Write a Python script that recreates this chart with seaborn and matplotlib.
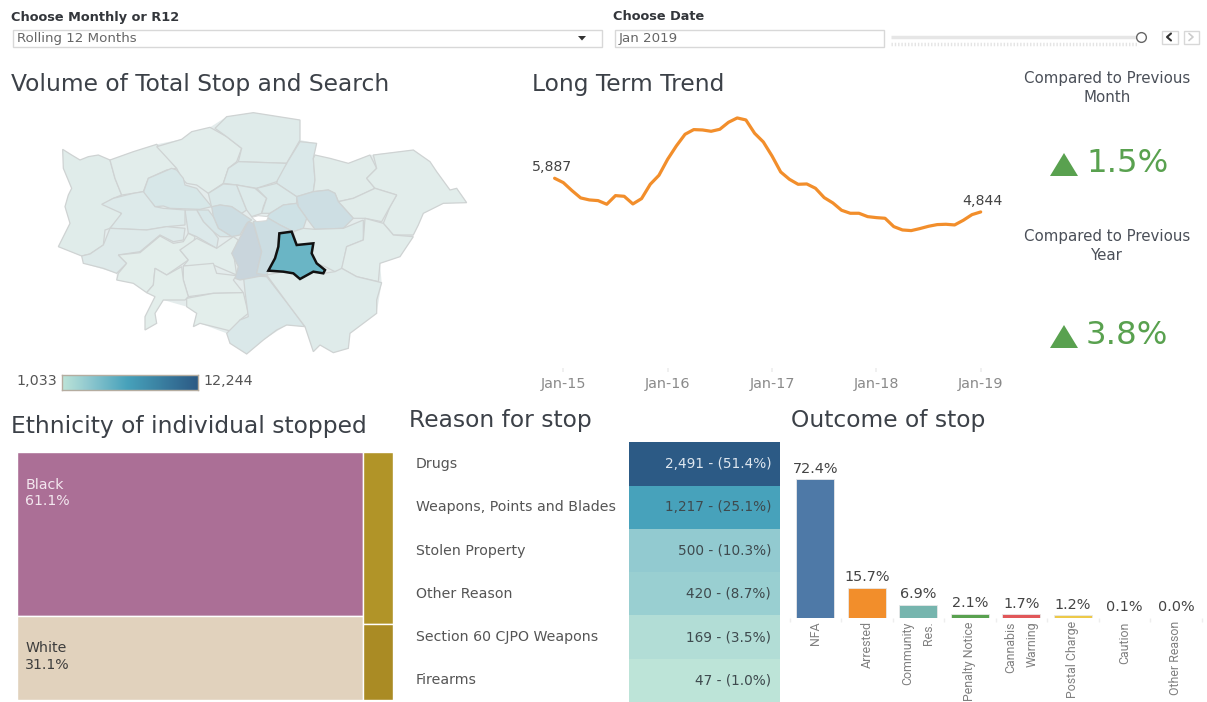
import matplotlib
matplotlib.use("Agg")
import matplotlib.pyplot as plt
from matplotlib import font_manager as fm
from matplotlib.colors import LinearSegmentedColormap, Normalize, to_rgb
from matplotlib.patches import Polygon, Rectangle
import numpy as np
import pandas as pd
import seaborn as sns

# ---------- data ----------
trend_values = [5887, 5753, 5505, 5278, 5216, 5195, 5082, 5350, 5329, 5092, 5257, 5701, 5980,
                6476, 6889, 7250, 7395, 7384, 7343, 7405, 7622, 7756, 7694, 7281, 7013,
                6579, 6083, 5856, 5701, 5711, 5577, 5288, 5123, 4896, 4803, 4803, 4699,
                4668, 4648, 4390, 4286, 4266, 4328, 4400, 4452, 4462, 4441, 4586, 4761, 4844]
trend_tick_months = [1, 13, 25, 37, 49]
trend_tick_labels = ["Jan-15", "Jan-16", "Jan-17", "Jan-18", "Jan-19"]

reason_labels = ["Drugs", "Weapons, Points and Blades", "Stolen Property", "Other Reason",
                 "Section 60 CJPO Weapons", "Firearms"]
reason_counts = [2491, 1217, 500, 420, 169, 47]
reason_pcts = [51.4, 25.1, 10.3, 8.7, 3.5, 1.0]

outcome_labels = ["NFA", "Arrested", "Community\nRes.", "Penalty Notice", "Cannabis\nWarning",
                  "Postal Charge", "Caution", "Other Reason"]
outcome_pcts = [72.4, 15.7, 6.9, 2.1, 1.7, 1.2, 0.1, 0.0]
outcome_colors = ["#4e79a7", "#f28e2b", "#76b5ae", "#59a14f", "#e15759", "#edc948", "#b07aa1", "#ff9da7"]

ethnicity_main = ["Black", "White"]
ethnicity_main_pcts = [61.1, 31.1]
ethnicity_rest_pcts = [5.4, 2.4]

color_min, color_max = 1033, 12244
selected_borough = "Lewisham"
borough_values = {
    "Hillingdon": 2000, "Harrow": 1400, "Barnet": 1350, "Enfield": 2300, "Waltham Forest": 3600,
    "Haringey": 3300, "Brent": 4300, "Camden": 3500, "Islington": 2800, "Hackney": 3300,
    "Redbridge": 1700, "Havering": 1500, "Barking": 1800, "Newham": 8000, "Tower Hamlets": 7000,
    "Westminster": 8500, "Kensington": 4400, "Hammersmith": 3000, "Ealing": 2900, "Hounslow": 2600,
    "Richmond": 1100, "Wandsworth": 1500, "Merton": 1250, "Kingston": 1100, "Sutton": 1200,
    "Croydon": 3600, "Lambeth": 12244, "Southwark": 8800, "Lewisham": 4844, "Greenwich": 2500,
    "Bexley": 1500, "Bromley": 2300,
}
# borough outlines in map units
london_outline = [(188,148),(240,180),(295,165),(330,180),(400,155),(470,133),(545,118),(575,95),(630,82),(680,50),(760,38),(900,60),(900,120),(950,130),(940,175),(990,175),(1045,190),(1110,165),(1240,150),(1290,185),(1310,215),(1350,270),(1370,265),(1400,308),(1330,310),(1270,340),(1240,405),(1200,470),(1140,490),(1145,548),(1130,640),(1050,700),(1045,745),(1000,758),(960,735),(940,755),(915,680),(860,675),(790,720),(740,762),(690,730),(680,700),(600,670),(580,680),(590,640),(560,620),(490,600),(465,640),(470,670),(435,690),(435,650),(465,590),(440,578),(400,550),(350,540),(350,520),(250,490),(245,468),(175,440),(210,370),(195,320),(205,285),(215,265),(190,205)]
borough_shapes = {
    "Hillingdon": [(188,148),(215,165),(240,180),(265,170),(295,165),(330,180),(345,235),(365,285),(340,295),(310,312),(360,335),(365,345),(330,385),(315,390),(310,435),(270,462),(245,468),(175,440),(210,370),(195,320),(205,285),(215,265),(190,205)],
    "Harrow": [(330,180),(400,155),(470,133),(530,205),(500,210),(445,235),(430,275),(400,280),(365,285),(345,235)],
    "Barnet": [(470,140),(545,118),(575,95),(630,82),(680,110),(725,145),(710,185),(685,205),(670,250),(625,280),(590,255),(560,250),(545,235),(530,205)],
    "Enfield": [(645,85),(680,50),(760,38),(900,60),(900,120),(860,190),(715,185),(725,145),(680,110)],
    "Waltham Forest": [(900,125),(950,130),(940,175),(945,240),(940,275),(890,290),(830,250),(835,225),(860,190)],
    "Haringey": [(715,185),(860,190),(830,245),(770,265),(710,255),(670,250),(685,205)],
    "Brent": [(515,205),(530,210),(550,235),(555,255),(590,265),(635,320),(600,328),(510,325),(490,318),(465,320),(430,278),(445,235)],
    "Camden": [(625,280),(670,252),(710,255),(740,330),(725,340),(695,320),(660,315),(635,322)],
    "Islington": [(710,255),(765,265),(800,295),(790,320),(785,340),(755,350),(740,330)],
    "Hackney": [(770,265),(830,250),(890,290),(890,310),(850,315),(810,340),(785,340),(800,295)],
    "Redbridge": [(945,165),(990,175),(1045,190),(1110,165),(1130,205),(1100,235),(1125,265),(1060,295),(1015,305),(1005,280),(985,270),(940,275),(945,240),(940,175)],
    "Havering": [(1120,165),(1240,150),(1290,185),(1310,215),(1350,270),(1370,265),(1400,308),(1330,310),(1270,340),(1255,375),(1240,405),(1180,405),(1150,370),(1170,320),(1190,285),(1125,265),(1100,235),(1130,205)],
    "Barking": [(1125,265),(1190,285),(1170,320),(1145,365),(1095,355),(1060,355),(1015,305),(1060,295)],
    "Newham": [(890,290),(940,275),(985,270),(1005,280),(1015,305),(1060,355),(1030,385),(945,388),(920,355),(895,320)],
    "Tower Hamlets": [(810,340),(850,315),(890,310),(895,320),(920,355),(910,385),(880,395),(840,375),(800,352)],
    "Westminster": [(635,320),(660,315),(695,320),(725,340),(755,360),(740,370),(720,405),(695,410),(655,385),(640,350)],
    "Kensington": [(590,330),(625,330),(640,350),(655,385),(695,410),(660,410),(640,395),(610,365)],
    "Hammersmith": [(555,330),(590,330),(610,365),(640,395),(655,415),(650,445),(590,410),(565,400)],
    "Ealing": [(305,313),(340,295),(400,280),(430,275),(465,320),(490,325),(555,330),(555,375),(500,380),(440,390),(330,385),(365,340)],
    "Hounslow": [(330,385),(440,390),(500,380),(555,385),(550,420),(520,425),(480,405),(420,455),(355,465),(380,490),(350,520),(310,505),(250,490),(245,468),(270,462),(310,435)],
    "Richmond": [(355,465),(420,458),(480,408),(520,430),(550,425),(565,400),(585,410),(580,430),(540,450),(565,480),(500,525),(465,505),(460,555),(440,578),(400,550),(350,540),(355,520),(380,490)],
    "Wandsworth": [(540,450),(590,415),(650,445),(700,410),(715,420),(700,455),(710,525),(640,495),(550,498),(565,480)],
    "Merton": [(550,498),(640,490),(650,520),(710,527),(700,540),(730,578),(640,580),(565,590),(550,540)],
    "Kingston": [(545,500),(550,540),(565,590),(555,600),(490,600),(465,640),(470,670),(435,690),(435,650),(465,590),(440,578),(460,555),(465,505),(500,525)],
    "Sutton": [(560,595),(640,580),(730,578),(745,640),(720,660),(700,695),(680,690),(600,670),(580,680),(590,640),(560,620)],
    "Croydon": [(730,525),(800,530),(870,620),(915,680),(860,675),(830,690),(790,720),(740,762),(690,730),(680,700),(720,660),(745,650),(735,575)],
    "Lambeth": [(695,460),(745,365),(760,370),(785,455),(770,520),(800,525),(720,540),(705,535),(715,500)],
    "Southwark": [(760,365),(800,352),(840,375),(880,395),(838,400),(835,440),(825,475),(805,515),(800,525),(770,520),(785,455)],
    "Greenwich": [(880,395),(910,385),(945,388),(1030,385),(1090,360),(1090,420),(1040,440),(1025,510),(1005,515),(975,500),(950,490),(935,460),(940,430),(890,435)],
    "Bexley": [(1095,355),(1150,370),(1180,405),(1240,410),(1200,470),(1140,490),(1135,545),(1070,530),(1025,505),(1040,440),(1090,420)],
    "Bromley": [(800,525),(850,515),(880,520),(900,537),(940,515),(970,520),(1005,515),(1025,505),(1070,530),(1145,548),(1130,600),(1130,640),(1050,700),(1045,745),(1000,758),(960,735),(940,755),(915,680),(870,620)],
    "Lewisham": [(838,400),(875,395),(890,435),(940,430),(935,460),(950,490),(975,510),(970,520),(940,515),(900,537),(880,520),(850,515),(805,512),(825,475),(835,440)],
}
city_shape = [(755,352),(775,347),(805,350),(800,362),(770,365)]

# ---------- set-up ----------
W, H = 1207, 702
sns.set_theme(style="white")
installed = {f.name for f in fm.fontManager.ttflist}
NARROW = "Liberation Sans Narrow" if "Liberation Sans Narrow" in installed else "Roboto"
plt.rcParams["font.family"] = ["DejaVu Sans"]
fig = plt.figure(figsize=(W / 100, H / 100), dpi=100, facecolor="white")


def px_axes(x0, y0, x1, y1, **kw):
    return fig.add_axes([x0 / W, 1 - y1 / H, (x1 - x0) / W, (y1 - y0) / H], **kw)


TITLE = "#3c4148"
ramp = LinearSegmentedColormap.from_list(
    "ramp", [(0, "#bde4d8"), (0.185, "#92cad0"), (0.48, "#47a2bb"), (1, "#2c5a85")])

# ---------- map ----------
ax_map = px_axes(0, 100, 500, 400)
ax_map.set_xlim(0, 1500)
ax_map.set_ylim(900, 0)
ax_map.axis("off")
map_norm = Normalize(color_min, color_max)
dim_base = np.array(to_rgb("#ecf0ef"))
ax_map.add_patch(Polygon(london_outline, closed=True, facecolor="#e4ecec", edgecolor="none", zorder=1))
for name, shape in borough_shapes.items():
    rgb = np.array(ramp(map_norm(borough_values[name]))[:3])
    if name == selected_borough:
        ax_map.add_patch(Polygon(shape, closed=True, facecolor=rgb, edgecolor="#111111", lw=1.8, zorder=3))
    else:
        ax_map.add_patch(Polygon(shape, closed=True, facecolor=0.18 * rgb + 0.82 * dim_base,
                                 edgecolor="#cfd3d3", lw=0.9, zorder=2))
ax_map.add_patch(Polygon(city_shape, closed=True, facecolor="white", edgecolor="#d5d8d8", lw=0.8, zorder=2))

ax_leg = px_axes(62, 375, 198, 390)
ax_leg.imshow(np.linspace(0, 1, 256)[None, :], cmap=ramp, aspect="auto")
ax_leg.set_xticks([])
ax_leg.set_yticks([])
for s in ax_leg.spines.values():
    s.set_color("#b5ada0")
    s.set_linewidth(1)

# ---------- long term trend ----------
x_scale = (980.7 - 563.3) / 48
ax_line = px_axes(532, 100, 1010, 368.3)
ax_line.set_xlim(1 - (563.3 - 532) / x_scale, 1 + (1010 - 563.3) / x_scale)
ax_line.set_ylim(0, 8312)
trend = pd.DataFrame({"month": np.arange(len(trend_values)), "value": trend_values})
sns.lineplot(data=trend, x="month", y="value", color="#f28e2b", lw=2.3, ax=ax_line)
ax_line.set_xlabel("")
ax_line.set_ylabel("")
ax_line.set_yticks([])
ax_line.set_xticks(trend_tick_months, trend_tick_labels)
ax_line.tick_params(axis="x", length=3, color="#eeeeee", labelcolor="#8a8a8a", labelsize=10.4, pad=3, bottom=True)
sns.despine(ax=ax_line, left=True, bottom=True)
ax_line.annotate(f"{trend_values[0]:,}", (0, trend_values[0]), xytext=(-2, 8), textcoords="offset points",
                 ha="center", va="center", fontsize=10.2, color="#444444")
ax_line.annotate(f"{trend_values[-1]:,}", (49, trend_values[-1]), xytext=(1, 8), textcoords="offset points",
                 ha="center", va="center", fontsize=10.2, color="#444444")

# ---------- ethnicity treemap ----------
ax_tree = px_axes(16.7, 451.7, 392.7, 700)
ax_tree.set_xlim(0, sum(ethnicity_main_pcts) + sum(ethnicity_rest_pcts))
ax_tree.set_ylim(1, 0)
ax_tree.axis("off")
main_total = sum(ethnicity_main_pcts)
rest_total = sum(ethnicity_rest_pcts)
share_black = ethnicity_main_pcts[0] / main_total
ax_tree.bar(0, share_black, width=main_total, bottom=0, align="edge", color="#ab6f96", edgecolor="white", lw=1)
ax_tree.bar(0, 1 - share_black, width=main_total, bottom=share_black, align="edge", color="#e1d2bd", edgecolor="white", lw=1)
share_rest = ethnicity_rest_pcts[0] / rest_total
ax_tree.bar(main_total, share_rest, width=rest_total, bottom=0, align="edge", color="#b19428", edgecolor="white", lw=1)
ax_tree.bar(main_total, 1 - share_rest, width=rest_total, bottom=share_rest, align="edge", color="#aa8b24", edgecolor="white", lw=1)
ax_tree.text(2.3, 0.165, f"{ethnicity_main[0]}\n{ethnicity_main_pcts[0]:.1f}%", color="#f3e7ef", fontsize=10.2,
             va="center", ha="left", linespacing=1.2)
ax_tree.text(2.3, 0.825, f"{ethnicity_main[1]}\n{ethnicity_main_pcts[1]:.1f}%", color="#3d3d3d", fontsize=10.2,
             va="center", ha="left", linespacing=1.2)

# ---------- reason heatmap ----------
ax_heat = px_axes(628.5, 442.3, 779.5, 702)
annot = np.array([[f"{c:,} - ({p:.1f}%)"] for c, p in zip(reason_counts, reason_pcts)])
sns.heatmap(np.array(reason_counts)[:, None], cmap=ramp, annot=annot, fmt="", cbar=False, ax=ax_heat,
            xticklabels=False, yticklabels=reason_labels, annot_kws={"fontsize": 9.8})
for i, t in enumerate(ax_heat.texts):
    t.set_ha("right")
    t.set_x(0.945)
    t.set_color("#dfe7ef" if i == 0 else "#3e4a4e")
ax_heat.tick_params(axis="y", left=False, pad=147, labelsize=10.2, labelcolor="#555555", rotation=0)
for t in ax_heat.get_yticklabels():
    t.set_ha("left")

# ---------- outcome bars ----------
ax_bar = px_axes(789.6, 460, 1201.6, 617.7)
outcome = pd.DataFrame({"outcome": outcome_labels, "pct": outcome_pcts})
sns.barplot(data=outcome, x="outcome", y="pct", hue="outcome", palette=outcome_colors, legend=False,
            width=0.74, saturation=1, ax=ax_bar, edgecolor="#e8e8e8", linewidth=0.6)
ax_bar.set_xlim(-0.5, 7.5)
ax_bar.set_ylim(0, 157.7 / 1.91)
ax_bar.set_xlabel("")
ax_bar.set_ylabel("")
ax_bar.set_yticks([])
sns.despine(ax=ax_bar, left=True, bottom=True)
for cont in ax_bar.containers:
    ax_bar.bar_label(cont, fmt="%.1f%%", padding=2.5, fontsize=10.4, color="#444444")
ax_bar.set_xticks(range(8), outcome_labels)
ax_bar.tick_params(axis="x", which="major", bottom=False, length=0, pad=2.5, labelcolor="#808080")
for t in ax_bar.get_xticklabels():
    t.set(rotation=90, ha="center", va="top", family=NARROW, fontsize=8.9, linespacing=1.8, multialignment="right")
ax_bar.set_xticks(np.arange(-0.5, 8), minor=True)
ax_bar.tick_params(axis="x", which="minor", bottom=True, length=3, color="#eeeeee")

# ---------- text and controls ----------
ov = fig.add_axes([0, 0, 1, 1], zorder=10)
ov.set_xlim(0, W)
ov.set_ylim(H, 0)
ov.axis("off")
ov.patch.set_alpha(0)


def label(x, y, s, size, color=TITLE, ha="left", weight="normal"):
    ov.text(x, y, s, fontsize=size, color=color, ha=ha, va="center", fontweight=weight)


label(11, 17, "Choose Monthly or R12", 9.3, "#33363b", weight="bold")
label(613, 17, "Choose Date", 9.3, "#33363b", weight="bold")
label(11, 84, "Volume of Total Stop and Search", 16.8)
label(532, 84, "Long Term Trend", 16.8)
label(11, 426, "Ethnicity of individual stopped", 16.8)
label(409, 421, "Reason for stop", 16.8)
label(791, 421, "Outcome of stop", 16.8)
label(16, 381, f"{color_min:,}", 10.3, "#555555")
label(203, 381, f"{color_max:,}", 10.3, "#555555")
for y, lines in [(79, "Compared to Previous"), (97, "Month"), (237, "Compared to Previous"), (255, "Year")]:
    label(1107, y, lines, 10.8, "#4a4f58", ha="center")
GREEN = "#59a14f"
label(1086, 164, "1.5%", 23.3, GREEN)
label(1086, 336, "3.8%", 23.3, GREEN)
ov.add_patch(Polygon([(1050, 176), (1064, 153), (1078, 176)], closed=True, fc=GREEN, ec="none"))
ov.add_patch(Polygon([(1050, 348), (1064, 325), (1078, 348)], closed=True, fc=GREEN, ec="none"))

BOX = dict(fc="white", ec="#d8d8d8", lw=1)
ov.add_patch(Rectangle((12.5, 29.5), 589, 17, **BOX))
ov.add_patch(Rectangle((614.5, 29.5), 269, 17, **BOX))
label(17, 38.5, "Rolling 12 Months", 9.6, "#666666")
label(619, 38.5, "Jan 2019", 9.6, "#666666")
ov.add_patch(Polygon([(578, 36), (586, 36), (582, 40.5)], closed=True, fc="#333333", ec="none"))
ov.plot([891, 1138], [37, 37], color="#e6e6e6", lw=2.5, solid_capstyle="butt")
ov.plot([891, 1138], [43.5, 43.5], color="#e4e4e4", lw=2.5, dashes=(0.4, 0.55))
ov.plot([1141], [37], marker="o", ms=7, mfc="white", mec="#666666", mew=1)
ov.add_patch(Rectangle((1161.5, 30.5), 16, 13, **BOX))
ov.add_patch(Rectangle((1183.5, 30.5), 15, 13, **BOX))
ov.plot([1171, 1167, 1171], [33.5, 37, 40.5], color="#333333", lw=1.5)
ov.plot([1189, 1193, 1189], [33.5, 37, 40.5], color="#cccccc", lw=1.2)

fig.savefig("out.png", dpi=100)
